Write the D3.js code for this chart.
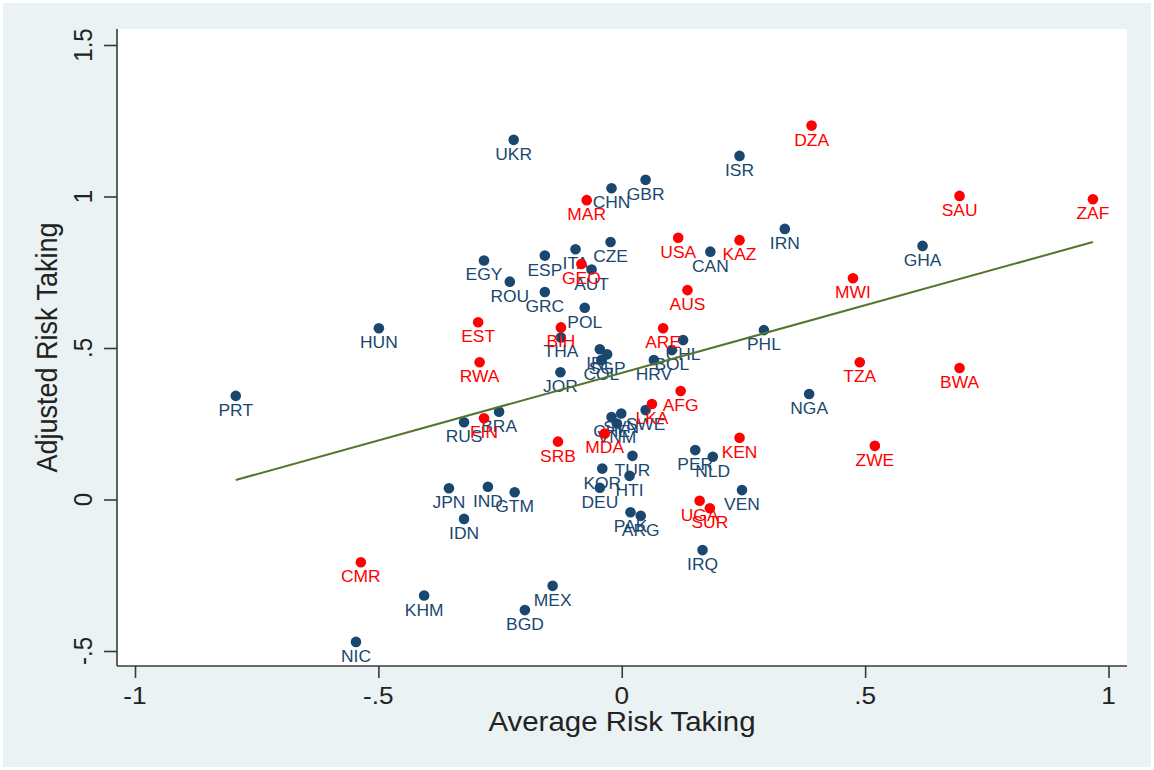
<!DOCTYPE html>
<html>
<head>
<meta charset="utf-8">
<script src="https://cdn.jsdelivr.net/npm/d3@7"></script>
<style>
  html, body { margin: 0; padding: 0; background: #ffffff; }
  svg { display: block; }
</style>
</head>
<body>
<svg id="chart" width="1154" height="770"></svg>
<script>
// ---- data ----
const blueCodes = ["UKR","ISR","GBR","CHN","IRN","GHA","CZE","CAN","EGY","ESP","ITA","AUT","ROU","GRC","POL","THA","IRL","SGP","COL","JOR","HRV","CHL","BOL","PHL","NGA","HUN","PRT","RUS","BRA","JPN","IND","GTM","IDN","KHM","BGD","MEX","NIC","CHE","SVN","VNM","SWE","TUR","KOR","HTI","DEU","PAK","ARG","PER","NLD","VEN","IRQ"];
const blueX = [-0.222,0.242,0.049,-0.021,0.335,0.618,-0.023,0.182,-0.283,-0.158,-0.095,-0.062,-0.230,-0.158,-0.076,-0.125,-0.045,-0.030,-0.042,-0.126,0.066,0.126,0.103,0.292,0.385,-0.499,-0.793,-0.324,-0.252,-0.355,-0.275,-0.220,-0.324,-0.406,-0.199,-0.142,-0.546,-0.021,-0.001,-0.010,0.049,0.022,-0.040,0.016,-0.045,0.018,0.039,0.151,0.187,0.247,0.166];
const blueY = [1.187,1.134,1.055,1.027,0.893,0.837,0.850,0.818,0.789,0.805,0.826,0.759,0.719,0.685,0.633,0.535,0.496,0.479,0.460,0.420,0.460,0.526,0.493,0.559,0.348,0.565,0.342,0.255,0.290,0.037,0.042,0.024,-0.064,-0.317,-0.365,-0.285,-0.470,0.272,0.284,0.251,0.295,0.144,0.102,0.078,0.039,-0.042,-0.054,0.163,0.141,0.031,-0.167];

const redCodes = ["DZA","SAU","ZAF","MAR","USA","KAZ","GEO","MWI","AUS","EST","BIH","ARE","RWA","TZA","BWA","AFG","LKA","FIN","SRB","MDA","KEN","ZWE","UGA","SUR","CMR"];
const redX = [0.390,0.694,0.968,-0.072,0.116,0.242,-0.083,0.475,0.135,-0.295,-0.125,0.085,-0.292,0.489,0.694,0.121,0.062,-0.283,-0.131,-0.035,0.242,0.520,0.160,0.181,-0.536];
const redY = [1.234,1.002,0.991,0.988,0.864,0.856,0.777,0.730,0.691,0.585,0.568,0.565,0.453,0.453,0.434,0.358,0.315,0.268,0.191,0.218,0.204,0.177,-0.004,-0.029,-0.207];

// fitted line: y = fitIntercept + fitSlope * x
const fitIntercept = 0.418;
const fitSlope = 0.446;

const xTicks = [-1, -0.5, 0, 0.5, 1];
const xTickLabels = ["-1", "-.5", "0", ".5", "1"];
const yTicks = [-0.5, 0, 0.5, 1, 1.5];
const yTickLabels = ["-.5", "0", ".5", "1", "1.5"];
const xTitle = "Average Risk Taking";
const yTitle = "Adjusted Risk Taking";

// ---- layout / style ----
const W = 1154, H = 770;
const plot = { left: 117, top: 29, right: 1127, bottom: 666 };
const SX = 1.09; // horizontal stretch of the reference text
const FONT = "'Liberation Sans', Arial, sans-serif";
const NAVY = "#1a476f", RED = "#ff0000", GREEN = "#55752f";

const svg = d3.select("#chart");

svg.append("rect").attr("x", 3).attr("y", 3).attr("width", W - 6).attr("height", H - 6)
  .attr("fill", "#eaf2f3");
svg.append("rect").attr("x", plot.left).attr("y", plot.top)
  .attr("width", plot.right - plot.left).attr("height", plot.bottom - plot.top)
  .attr("fill", "#ffffff");

const x = d3.scaleLinear().domain([-1, 1]).range([135, 1108.5]);
const y = d3.scaleLinear().domain([-0.5, 1.5]).range([651, 45]);

// axes
const xAxis = d3.axisBottom(x).tickValues(xTicks).tickSize(12).tickFormat("");
const yAxis = d3.axisLeft(y).tickValues(yTicks).tickSize(13).tickFormat("");

const gx = svg.append("g").attr("transform", `translate(0,${plot.bottom})`).call(xAxis);
gx.select(".domain").attr("d", `M${plot.left},0H${plot.right}`);
const gy = svg.append("g").attr("transform", `translate(${plot.left},0)`).call(yAxis);
gy.select(".domain").attr("d", `M0,${plot.top}V${plot.bottom}`);
svg.selectAll(".domain").attr("stroke", "#3a3a3a").attr("stroke-width", 1.6);
svg.selectAll(".tick line").attr("stroke", "#3a3a3a").attr("stroke-width", 1.6);

// tick labels
svg.append("g").selectAll("text").data(xTicks).join("text")
  .attr("transform", d => `translate(${x(d)},704) scale(${SX},1)`)
  .attr("text-anchor", "middle")
  .attr("font-family", FONT).attr("font-size", 24).attr("fill", "#222")
  .text((d, i) => xTickLabels[i]);

svg.append("g").selectAll("text").data(yTicks).join("text")
  .attr("transform", d => `translate(92,${y(d)}) scale(${SX},1) rotate(-90)`)
  .attr("text-anchor", "middle")
  .attr("font-family", FONT).attr("font-size", 24).attr("fill", "#222")
  .text((d, i) => yTickLabels[i]);

// axis titles
svg.append("text")
  .attr("transform", `translate(${(plot.left + plot.right) / 2},731) scale(${SX},1)`)
  .attr("text-anchor", "middle")
  .attr("font-family", FONT).attr("font-size", 27).attr("fill", "#222")
  .text(xTitle);
svg.append("text")
  .attr("transform", `translate(57,${(plot.top + plot.bottom) / 2}) scale(${SX},1) rotate(-90)`)
  .attr("text-anchor", "middle")
  .attr("font-family", FONT).attr("font-size", 27).attr("fill", "#222")
  .text(yTitle);

// series
function drawSeries(codes, xs, ys, color) {
  const data = codes.map((c, i) => ({ code: c, x: xs[i], y: ys[i] }));
  const g = svg.append("g");
  g.selectAll("circle").data(data).join("circle")
    .attr("cx", d => x(d.x)).attr("cy", d => y(d.y))
    .attr("r", 5.3).attr("fill", color);
  g.selectAll("text").data(data).join("text")
    .attr("transform", d => `translate(${x(d.x)},${y(d.y) + 20}) scale(${SX},1)`)
    .attr("text-anchor", "middle")
    .attr("font-family", FONT).attr("font-size", 16).attr("fill", color)
    .text(d => d.code);
}
drawSeries(blueCodes, blueX, blueY, NAVY);
drawSeries(redCodes, redX, redY, RED);

// fitted line across the x range of the data
const allX = blueX.concat(redX);
const xMin = d3.min(allX), xMax = d3.max(allX);
svg.append("path")
  .datum([xMin, xMax])
  .attr("d", d3.line().x(d => x(d)).y(d => y(fitIntercept + fitSlope * d)))
  .attr("stroke", GREEN).attr("stroke-width", 2).attr("fill", "none");
</script>
</body>
</html>
